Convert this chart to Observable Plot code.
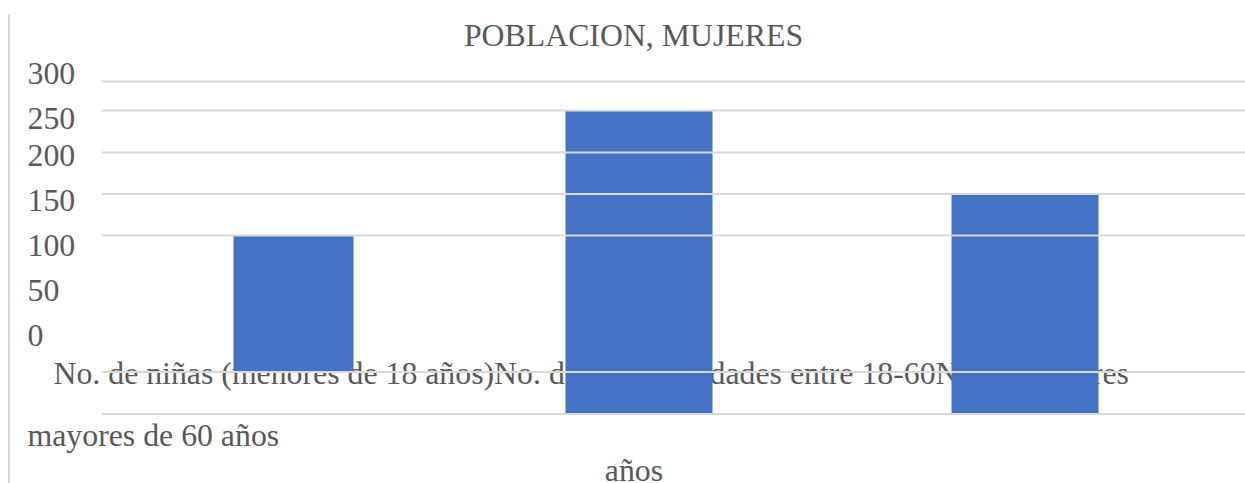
<!DOCTYPE html>
<html>
<head>
<meta charset="utf-8">
<script src="https://cdn.jsdelivr.net/npm/d3@7"></script>
<script src="https://cdn.jsdelivr.net/npm/@observablehq/plot@0.6"></script>
<style>
  html, body { margin: 0; padding: 0; background: #ffffff; }
  #wrap { position: relative; width: 1245px; height: 483px; overflow: hidden; background: #ffffff; }
  #wrap > svg, #wrap > figure { position: absolute; left: 0; top: 0; margin: 0; }
  #border { position: absolute; left: 8px; top: 14px; width: 2px; height: 469px; background: #d9d9d9; }
</style>
</head>
<body>
<div id="wrap"><div id="border"></div></div>
<script>
// ---- data ----
const title = "POBLACION, MUJERES";
const categories = [
  "No. de niñas (menores de 18 años)",
  "No. de mujeres edades entre 18-60 años",
  "No. de mujeres mayores de 60 años"
];
const values = [100, 250, 150];
const barBase = [50, 0, 0];
const yTicks = [0, 50, 100, 150, 200, 250, 300];

// ---- layout / style ----
const FONT = "Liberation Serif";
const FS = 31.8;
const TXT = "#595959";
const BAR = "#4472C4";
const GRID = "#d9d9d9";

// category labels flow as one broken paragraph (as in the reference)
const c1Words = categories[1].split(" ");
const c1Tail = c1Words.pop();
const c2Cut = categories[2].indexOf(" mayores");
const line1 = categories[0] + c1Words.join(" ") + categories[2].slice(0, c2Cut);
const line2 = categories[2].slice(c2Cut + 1);
const line3 = c1Tail;

const bars = categories.map((c, i) => ({i, category: c, value: values[i], base: barBase[i]}));

const txt = {fontFamily: FONT, fontSize: FS, fill: TXT};

const main = Plot.plot({
  width: 1245,
  height: 483,
  marginLeft: 102,
  marginRight: 0,
  marginTop: 0,
  marginBottom: 0,
  style: {background: "transparent", color: TXT},
  x: {type: "linear", domain: [0, 1, 2], range: [293, 638.5, 1024.5], axis: null},
  y: {type: "linear", domain: yTicks, range: [413.5, 371.5, 235, 193.5, 152, 110, 81], axis: null},
  marks: [
    Plot.text([line1], {...txt, text: d => d, frameAnchor: "top-left", textAnchor: "start", lineAnchor: "bottom", dx: 53 - 102, dy: 383}),
    Plot.text([line2], {...txt, text: d => d, frameAnchor: "top-left", textAnchor: "start", lineAnchor: "bottom", dx: 27 - 102, dy: 445}),
    Plot.text([{i: 1, t: line3}], {...txt, x: "i", text: "t", frameAnchor: "top", textAnchor: "middle", lineAnchor: "bottom", dx: -5, dy: 480}),
    Plot.ruleX(bars, {x: "i", y1: "base", y2: "value", stroke: BAR, strokeWidth: d => (d.i === 0 ? 120 : 147)}),
    Plot.ruleY(yTicks, {stroke: GRID, strokeWidth: 2}),
    Plot.text([title], {...txt, text: d => d, frameAnchor: "top-left", textAnchor: "middle", lineAnchor: "bottom", dx: 633 - 102, dy: 45})
  ]
});

const axis = Plot.plot({
  width: 102,
  height: 483,
  marginLeft: 27,
  marginRight: 0,
  marginTop: 0,
  marginBottom: 0,
  style: {background: "transparent", color: TXT},
  y: {type: "linear", domain: yTicks, range: [345, 300, 255, 210, 165.5, 128, 83], axis: null},
  marks: [
    Plot.text(yTicks, {...txt, y: d => d, text: d => String(d), frameAnchor: "left", textAnchor: "start", lineAnchor: "bottom"})
  ]
});

const wrap = document.getElementById("wrap");
wrap.appendChild(main);
wrap.appendChild(axis);
</script>
</body>
</html>
